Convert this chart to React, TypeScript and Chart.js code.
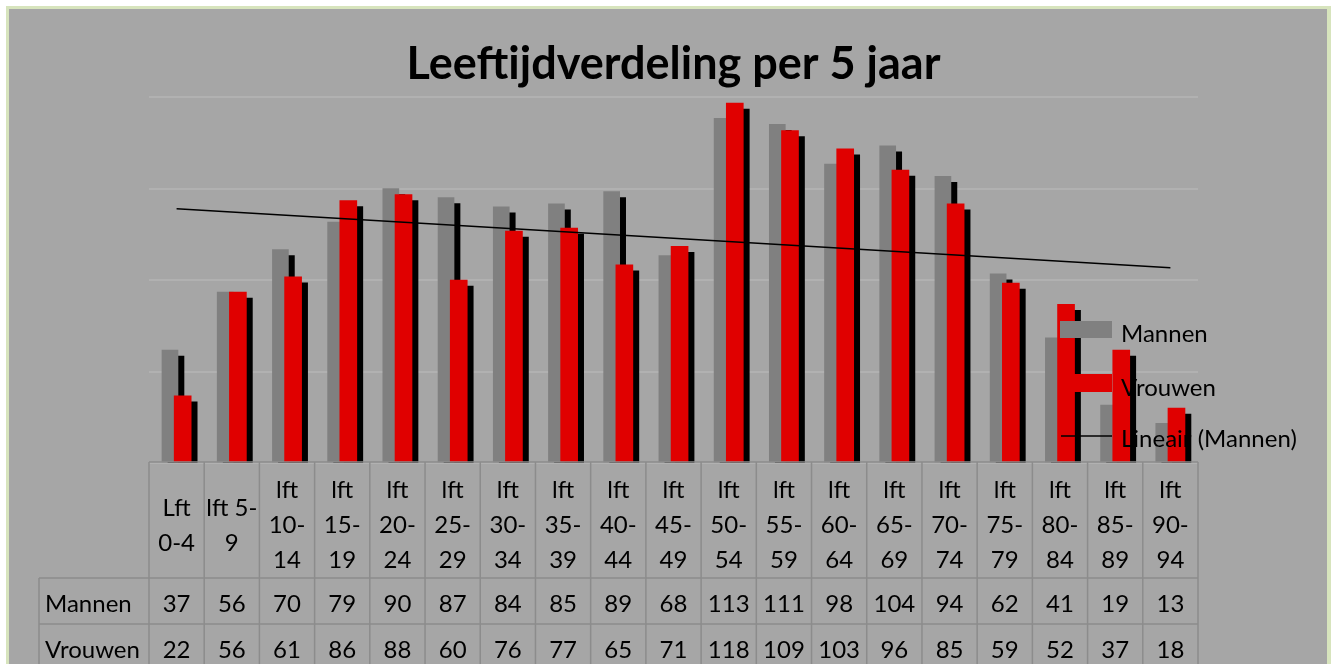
import React, { useEffect, useRef } from "react";
import { Chart, registerables } from "chart.js";

Chart.register(...registerables);

const TITLE = "Leeftijdverdeling per 5 jaar";
const categoryLabels: string[][] = [
  ["Lft", "0-4"],
  ["lft 5-", "9"],
  ["lft", "10-", "14"],
  ["lft", "15-", "19"],
  ["lft", "20-", "24"],
  ["lft", "25-", "29"],
  ["lft", "30-", "34"],
  ["lft", "35-", "39"],
  ["lft", "40-", "44"],
  ["lft", "45-", "49"],
  ["lft", "50-", "54"],
  ["lft", "55-", "59"],
  ["lft", "60-", "64"],
  ["lft", "65-", "69"],
  ["lft", "70-", "74"],
  ["lft", "75-", "79"],
  ["lft", "80-", "84"],
  ["lft", "85-", "89"],
  ["lft", "90-", "94"],
];
const mannen = [37, 56, 70, 79, 90, 87, 84, 85, 89, 68, 113, 111, 98, 104, 94, 62, 41, 19, 13];
const vrouwen = [22, 56, 61, 86, 88, 60, 76, 77, 65, 71, 118, 109, 103, 96, 85, 59, 52, 37, 18];
const seriesNames = ["Mannen", "Vrouwen", "Lineair (Mannen)"];

const FONT = "Lato, 'DejaVu Sans', sans-serif";
const BG = "#a6a6a6";
const GRAY = "#808080";
const RED = "#e00000";
const TABLE_LINE = "#8c8c8c";

// Excel linear trendline (least squares) of the Mannen series
function linearTrend(values: number[]) {
  const n = values.length;
  const xs = values.map((_, i) => i + 1);
  const mx = xs.reduce((a, b) => a + b, 0) / n;
  const my = values.reduce((a, b) => a + b, 0) / n;
  let sxy = 0;
  let sxx = 0;
  for (let i = 0; i < n; i++) {
    sxy += (xs[i] - mx) * (values[i] - my);
    sxx += (xs[i] - mx) * (xs[i] - mx);
  }
  const slope = sxy / sxx;
  const icpt = my - slope * mx;
  return [
    { x: 0, y: icpt + slope * 1 },
    { x: n - 1, y: icpt + slope * n },
  ];
}

const backgroundPlugin = {
  id: "bgFrame",
  beforeDraw(chart: any) {
    const { ctx, width, height } = chart;
    ctx.save();
    ctx.fillStyle = "#ffffff";
    ctx.fillRect(0, 0, width, height);
    ctx.fillStyle = "#d7e4bd";
    ctx.fillRect(6, 6, 1325, height);
    ctx.fillStyle = BG;
    ctx.fillRect(9, 9, 1318, height);
    ctx.restore();
  },
};

const shadowPlugin = {
  id: "barShadow",
  beforeDatasetDraw(chart: any, args: any) {
    if (args.meta.type !== "bar") return;
    const ctx = chart.ctx;
    ctx.save();
    ctx.shadowColor = "#000000";
    ctx.shadowOffsetX = 6;
    ctx.shadowOffsetY = 6;
    ctx.shadowBlur = 0;
  },
  afterDatasetDraw(chart: any, args: any) {
    if (args.meta.type !== "bar") return;
    chart.ctx.restore();
  },
};

const tablePlugin = {
  id: "dataTable",
  afterDraw(chart: any) {
    const { ctx, chartArea } = chart;
    const xs = chart.scales.x;
    const top = chartArea.bottom - 1;
    const headerBottom = 578;
    const row1Bottom = 624;
    const row2Bottom = 670;
    const labelLeft = 39;
    const n = categoryLabels.length;
    ctx.save();
    ctx.strokeStyle = TABLE_LINE;
    ctx.lineWidth = 1.5;
    ctx.beginPath();
    ctx.moveTo(xs.getPixelForValue(-0.5), top);
    ctx.lineTo(xs.getPixelForValue(n - 0.5), top);
    ctx.moveTo(labelLeft, headerBottom);
    ctx.lineTo(xs.getPixelForValue(n - 0.5), headerBottom);
    ctx.moveTo(labelLeft, row1Bottom);
    ctx.lineTo(xs.getPixelForValue(n - 0.5), row1Bottom);
    ctx.moveTo(labelLeft, headerBottom);
    ctx.lineTo(labelLeft, row2Bottom);
    for (let i = 0; i <= n; i++) {
      const px = xs.getPixelForValue(i - 0.5);
      ctx.moveTo(px, top);
      ctx.lineTo(px, row2Bottom);
    }
    ctx.stroke();

    ctx.fillStyle = "#000000";
    ctx.font = `24px ${FONT}`;
    ctx.textBaseline = "alphabetic";
    ctx.textAlign = "center";
    const lineH = 35;
    for (let i = 0; i < n; i++) {
      const cx = xs.getPixelForValue(i);
      const lines = categoryLabels[i];
      const firstBase = 533 - ((lines.length - 1) * lineH) / 2;
      lines.forEach((t, k) => ctx.fillText(t, cx, firstBase + k * lineH));
      ctx.fillText(String(mannen[i]), cx, 612);
      ctx.fillText(String(vrouwen[i]), cx, 658);
    }
    ctx.textAlign = "left";
    ctx.fillText(seriesNames[0], 45, 612);
    ctx.fillText(seriesNames[1], 45, 658);
    ctx.restore();
  },
};

const legendPlugin = {
  id: "customLegend",
  afterDraw(chart: any) {
    const { ctx } = chart;
    ctx.save();
    ctx.fillStyle = GRAY;
    ctx.fillRect(1060, 321, 52, 17);
    ctx.fillStyle = RED;
    ctx.fillRect(1060, 374, 52, 18);
    ctx.strokeStyle = "#000000";
    ctx.lineWidth = 1.5;
    ctx.beginPath();
    ctx.moveTo(1061, 436);
    ctx.lineTo(1112, 436);
    ctx.stroke();
    ctx.fillStyle = "#000000";
    ctx.font = `24px ${FONT}`;
    ctx.textAlign = "left";
    ctx.textBaseline = "alphabetic";
    ctx.fillText(seriesNames[0], 1121, 342);
    ctx.fillText(seriesNames[1], 1121, 396);
    ctx.fillText(seriesNames[2], 1121, 447);
    ctx.restore();
  },
};

export default function App() {
  const canvasRef = useRef<HTMLCanvasElement | null>(null);

  useEffect(() => {
    if (!canvasRef.current) return;
    const trend = linearTrend(mannen);
    const chart = new Chart(canvasRef.current, {
      type: "bar",
      data: {
        datasets: [
          {
            type: "line",
            label: seriesNames[2],
            data: trend,
            borderColor: "#000000",
            borderWidth: 1.5,
            pointRadius: 0,
            fill: false,
            order: 0,
          } as any,
          {
            type: "bar",
            label: seriesNames[1],
            data: vrouwen.map((v, i) => ({ x: i + 0.11, y: v })),
            backgroundColor: RED,
            barThickness: 17,
            grouped: false,
            order: 1,
            clip: { left: 20, right: 20, top: 20, bottom: 0 },
          } as any,
          {
            type: "bar",
            label: seriesNames[0],
            data: mannen.map((v, i) => ({ x: i - 0.12, y: v })),
            backgroundColor: GRAY,
            barThickness: 16,
            grouped: false,
            order: 2,
            clip: { left: 20, right: 20, top: 20, bottom: 0 },
          } as any,
        ],
      },
      options: {
        responsive: false,
        animation: false,
        devicePixelRatio: 1,
        layout: { padding: { left: 149, right: 136, top: 0, bottom: 201 } },
        scales: {
          x: {
            type: "linear",
            min: -0.5,
            max: 18.5,
            offset: false,
            display: false,
          },
          y: {
            min: 0,
            max: 120,
            ticks: { display: false, stepSize: 30 },
            grid: { color: "#b1b1b1", lineWidth: 2, drawTicks: false },
            border: { display: false },
          },
        },
        plugins: {
          legend: { display: false },
          tooltip: { enabled: false },
          title: {
            display: true,
            text: TITLE,
            color: "#000000",
            font: { family: FONT, size: 45, weight: "bold", lineHeight: 1.2 },
            padding: { top: 37, bottom: 6 },
          },
        },
      },
      plugins: [backgroundPlugin, shadowPlugin, tablePlugin, legendPlugin],
    });
    return () => chart.destroy();
  }, []);

  return (
    <div style={{ position: "fixed", left: 0, top: 0, width: 1334, height: 664, background: "#fff" }}>
      <canvas ref={canvasRef} width={1334} height={664} style={{ display: "block" }} />
    </div>
  );
}
